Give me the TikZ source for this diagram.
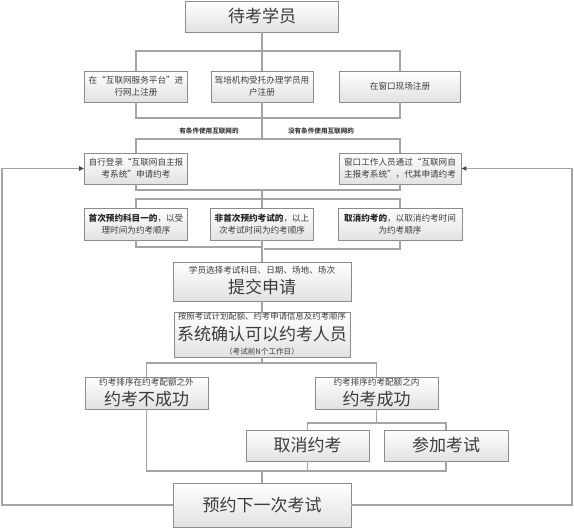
\documentclass[tikz,border=0pt]{standalone}
\usepackage{fontspec}
\setmainfont{Noto Sans CJK SC}
\usetikzlibrary{arrows.meta,shadows}
\definecolor{boxline}{HTML}{8C8C8C}
\definecolor{boxbot}{HTML}{E2E2E2}
\definecolor{linec}{HTML}{A4A4A4}
\definecolor{txt}{HTML}{3C3C3C}
\newcommand{\smf}{\fontsize{8.6}{12}\selectfont}
\newcommand{\lgf}{\fontsize{17}{20}\selectfont}
\newcommand{\lbf}{\fontsize{6.6}{8}\selectfont}
\tikzset{
  box/.style={draw=boxline, line width=0.9pt, top color=white, bottom color=boxbot,
    align=center, text=txt, inner sep=0pt,
    drop shadow={shadow xshift=0.8pt, shadow yshift=-0.8pt, opacity=0.2}},
  sbox/.style={box, font=\smf},
  lbox/.style={box, font=\lgf},
  txtnode/.style={text=txt, inner sep=0pt, anchor=base},
  link/.style={draw=linec, line width=1.1pt},
  arr/.style={link, -{Triangle[length=5pt,width=4.5pt,color=black!70]}}
}
\begin{document}
\begin{tikzpicture}[x=1pt,y=-1pt]
\useasboundingbox (0,0) rectangle (574,529);
% bus levels
\coordinate (y1) at (0,51);
\coordinate (y2) at (0,118);
\coordinate (y3) at (0,139);
\coordinate (y4) at (0,190);
\coordinate (y5) at (0,199);
\coordinate (y6) at (0,247);
\coordinate (y6b) at (0,249);
\coordinate (y7) at (0,363);
\coordinate (y8) at (0,423);
\coordinate (y9) at (0,471);
\coordinate (c4) at (262,190);
\coordinate (c5) at (262,199);
\coordinate (c6) at (262,247);
\coordinate (c6b) at (264,249);
\coordinate (xl) at (2,169);
\coordinate (xr) at (572,169);

% connectors first (under boxes)
\begin{scope}[on background layer/.style={}]
\end{scope}

% boxes
\node[lbox, minimum width=153pt, minimum height=31pt] (top) at (262,16.5) {待考学员};

\node[sbox, minimum width=103pt, minimum height=31pt] (r1a) at (136,86.5) {在“互联网服务平台”进\\行网上注册};
\node[sbox, minimum width=102pt, minimum height=31pt] (r1b) at (262,86.5) {驾培机构受托办理学员用\\户注册};
\node[sbox, minimum width=121pt, minimum height=31pt] (r1c) at (400,86.5) {在窗口现场注册};

\node[txtnode, font=\lbf\bfseries] (lab1) at (209,134) {有条件使用互联网的};
\node[txtnode, font=\lbf\bfseries] (lab2) at (321,134) {没有条件使用互联网的};

\node[sbox, minimum width=103pt, minimum height=31pt] (r2a) at (136,168.5) {自行登录“互联网自主报\\考系统”申请约考};
\node[sbox, minimum width=122pt, minimum height=31pt] (r2b) at (400,168.5) {窗口工作人员通过“互联网自\\主报考系统”，代其申请约考};

\node[sbox, minimum width=103pt, minimum height=32pt] (r3a) at (136,224) {\textbf{\color{black!85}首次预约科目一的}，以受\\理时间为约考顺序};
\node[sbox, minimum width=103pt, minimum height=32pt] (r3b) at (262,224) {\textbf{\color{black!85}非首次预约考试的}，以上\\次考试时间为约考顺序};
\node[sbox, minimum width=124pt, minimum height=32pt] (r3c) at (400,224) {\textbf{\color{black!85}取消约考的}，以取消约考时间\\为约考顺序};

\node[box, minimum width=178pt, minimum height=39pt] (sub) at (262,281.5) {};
\node[txtnode, font=\smf] (subs) at (262,274) {学员选择考试科目、日期、场地、场次};
\node[txtnode, font=\lgf] (subl) at (262,293.5) {提交申请};

\node[box, minimum width=176pt, minimum height=45pt] (conf) at (262,334.5) {};
\node[txtnode, font=\fontsize{8.4}{10}\selectfont] (confs) at (262,320) {按照考试计划配额、约考申请信息及约考顺序};
\node[txtnode, font=\lgf] (confl) at (262,340.5) {系统确认可以约考人员};
\node[txtnode, font=\fontsize{7.6}{9}\selectfont] (confp) at (262,354.3) {（考试前N个工作日）};

\node[box, minimum width=123pt, minimum height=32pt] (fail) at (146.5,393) {};
\node[txtnode, font=\smf] (fails) at (146.5,386) {约考排序在约考配额之外};
\node[txtnode, font=\lgf] (faill) at (146.5,405.5) {约考不成功};

\node[box, minimum width=123pt, minimum height=32pt] (succ) at (376.5,393) {};
\node[txtnode, font=\smf] (succs) at (376.5,386) {约考排序约考配额之内};
\node[txtnode, font=\lgf] (succl) at (376.5,405.5) {约考成功};

\node[lbox, minimum width=123pt, minimum height=31pt] (cancel) at (307.5,445.5) {取消约考};
\node[lbox, minimum width=124pt, minimum height=31pt] (attend) at (446,445.5) {参加考试};

\node[lbox, minimum width=178pt, minimum height=44pt] (next) at (262,505) {预约下一次考试};

% connectors
\draw[link] (top.south) -- (top.south |- y1);
\draw[link] (r1a.north) |- (r1c.north |- y1) -- (r1c.north);
\draw[link] (r1b.north) -- (r1b.north |- y1);
\draw[link] (r1a.south) |- (r1c.south |- y2) -- (r1c.south);
\draw[link] (r1b.south) -- (r1b.south |- y3);
\draw[link] (r2a.north) |- (r2b.north |- y3) -- (r2b.north);
\draw[link] (r2a.south) |- (r2b.south |- y4) -- (r2b.south);
\draw[link] (c4) -- (c5);
\draw[link] (r3a.north) |- (r3c.north |- y5) -- (r3c.north);
\draw[link] (r3b.north) -- (r3b.north |- y5);
\draw[link] (r3a.south) |- (c6);
\draw[link] (r3c.south) |- (c6b);
\draw[link] (r3b.south) -- (sub.north);
\draw[link] (sub.south) -- (conf.north);
\draw[link] (conf.south) -- (conf.south |- y7);
\draw[link] (fail.north) |- (succ.north |- y7) -- (succ.north);
\draw[link] (succ.south) -- (succ.south |- y8);
\draw[link] (cancel.north) |- (attend.north |- y8) -- (attend.north);
\draw[link] (fail.south) |- (attend.south |- y9) -- (attend.south);
\draw[link] (cancel.south) -- (cancel.south |- y9);
\draw[link] (next.north) -- (next.north |- y9);
\draw[arr] (next.west) -| (xl) |- (r2a.west);
\draw[arr] (next.east) -| (xr) |- (r2b.east);
\end{tikzpicture}
\end{document}
